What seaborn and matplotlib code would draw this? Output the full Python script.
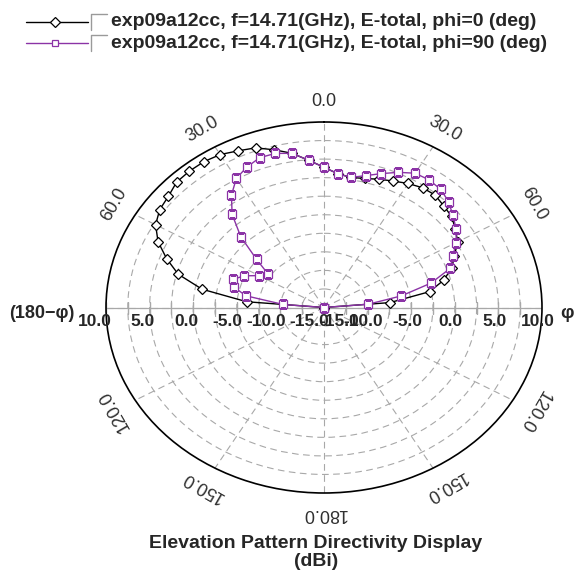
import numpy as np
import pandas as pd
import matplotlib
matplotlib.use("Agg")
import matplotlib.pyplot as plt
import seaborn as sns
from matplotlib.lines import Line2D

# elevation angle (deg), 0 = zenith, negative = (180-phi) side
theta_deg = list(range(-90, 95, 5))
phi0_db = [-15, -6.1, -0.8, 2.3, 4.2, 6.0, 7.3, 8.0, 8.3, 8.9, 9.0, 9.0, 8.8, 8.3, 7.9, 7.0,
           6.1, 4.9, 3.9, 3.1, 2.8, 3.0, 3.4, 3.8, 4.3, 4.7, 4.8, 4.4, 4.1, 3.4, 2.7, 1.5,
           0.6, -0.8, -2.7, -7.4, -15]
phi90_db = [-15, -10.3, -5.9, -4.3, -3.9, -4.9, -6.4, -7.2, -4.9, -1.5, 1.4, 3.5, 5.1, 5.9, 6.5, 6.5,
            6.1, 4.9, 3.9, 3.1, 2.8, 3.4, 4.2, 5.1, 5.9, 6.0, 5.8, 5.2, 4.3, 3.5, 2.5, 1.3,
            0.4, -2.3, -6.0, -9.9, -15]
series_names = ["exp09a12cc, f=14.71(GHz), E-total, phi=0 (deg)",
                "exp09a12cc, f=14.71(GHz), E-total, phi=90 (deg)"]
radial_ticks = [10, 5, 0, -5, -10, -15]
angle_ticks = [0, 30, 60, 120, 150, 180]

sns.set_style("white")
plt.rcParams['font.family'] = ['Liberation Sans', 'DejaVu Sans']

black = "#000000"
purple = "#8B33A6"
grid_c = "#A8A8A8"

df = pd.DataFrame({"theta": np.deg2rad(theta_deg), "phi0": phi0_db, "phi90": phi90_db})

fig = plt.figure(figsize=(5.76, 5.74), dpi=100)
ax = fig.add_axes([106 / 576, 1 - 493 / 574, 436 / 576, 371 / 574], projection="polar")
ax.set_aspect("auto")
ax.set_theta_zero_location("N")
ax.set_theta_direction(-1)
ax.set_rlim(-15, 10)

ax.set_xticks(np.deg2rad(np.arange(0, 360, 30)))
ax.set_yticks(np.arange(-12.5, 10, 2.5))
ax.set_xticklabels([])
ax.set_yticklabels([])
ax.grid(True, color=grid_c, linestyle=(0, (6, 4)), linewidth=0.8)
ax.spines["polar"].set_color("black")
ax.spines["polar"].set_linewidth(1.2)

# horizontal axis with tick marks
rr = np.arange(-15, 10.1, 2.5)
for side in [np.pi / 2, -np.pi / 2]:
    ax.plot([side, side], [-15, 10], color=grid_c, lw=0.9, zorder=1)
    ax.plot([side] * len(rr), rr, ls="none", marker="|", ms=9, color=grid_c, zorder=1)

sns.lineplot(data=df, x="theta", y="phi0", ax=ax, sort=False, estimator=None, color=black,
             lw=1.0, marker="D", ms=5, mfc="white", mec=black, mew=0.9, zorder=3)
sns.lineplot(data=df, x="theta", y="phi90", ax=ax, sort=False, estimator=None, color=purple,
             lw=1.0, marker="s", ms=5.5, mfc="white", mec=purple, mew=0.9, zorder=4)
ax.set_xlabel("")
ax.set_ylabel("")

# angle labels
for a in angle_ticks:
    sides = [a] if a in (0, 180) else [a, -a]
    for s in sides:
        ax.text(np.deg2rad(s), 12.8, f"{a:.1f}", rotation=-s, ha="center", va="center",
                rotation_mode="anchor", fontsize=13, color="#303030")

# radial labels on horizontal axis
for r in radial_ticks:
    ax.annotate(f"{r:.1f}", xy=(-np.pi / 2, r), xytext=(4, -10), textcoords="offset points",
                ha="right", va="center", fontsize=12.5, fontweight="bold")
    right_ha = "left" if r == -15 else "center"
    ax.annotate(f"{r:.1f}", xy=(np.pi / 2, r), xytext=(-3, -10), textcoords="offset points",
                ha=right_ha, va="center", fontsize=12.5, fontweight="bold")

fig.text(42 / 576, 1 - 314 / 574, "(180\u2212\u03c6)", ha="center", va="center",
         fontsize=13, fontweight="bold")
fig.text(567 / 576, 1 - 314 / 574, "\u03c6", ha="center", va="center",
         fontsize=13.5, fontweight="bold")

# legend
for i, (name, col, mk) in enumerate(zip(series_names, [black, purple], ["D", "s"])):
    y = 1 - (22 + 21 * i) / 574
    fig.add_artist(Line2D([26 / 576, 88 / 576], [y, y], color=col, lw=1.0))
    fig.add_artist(Line2D([55 / 576], [y], color=col, marker=mk, ms=5, mfc="white", mec=col, mew=0.9))
    fig.add_artist(Line2D([91 / 576, 91 / 576, 107 / 576], [y - 8 / 574, y + 8 / 574, y + 8 / 574],
                          color="#9A9A9A", lw=1.0))
    fig.text(111 / 576, y, name, ha="left", va="center", fontsize=14, fontweight="bold")

fig.text(316 / 576, 1 - 543 / 574, "Elevation Pattern Directivity Display", ha="center",
         va="center", fontsize=14, fontweight="bold")
fig.text(316 / 576, 1 - 562 / 574, "(dBi)", ha="center", va="center", fontsize=14,
         fontweight="bold")

fig.savefig("out.png", dpi=100)
